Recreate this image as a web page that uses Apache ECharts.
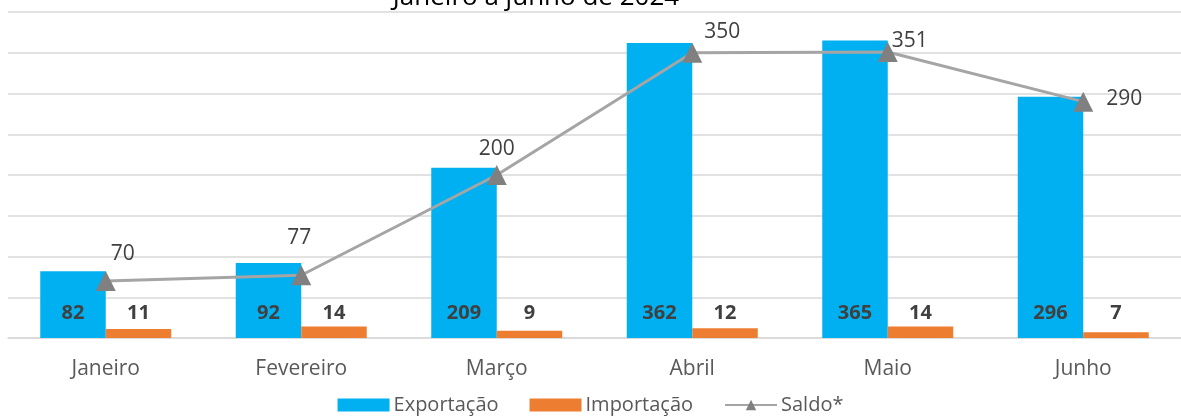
<!DOCTYPE html>
<html>
<head>
<meta charset="utf-8">
<script src="https://cdn.jsdelivr.net/npm/echarts@6/dist/echarts.min.js"></script>
<style>html,body{margin:0;padding:0;background:#fff}#c{width:1181px;height:418px}</style>
</head>
<body>
<div id="c"></div>
<script>
const categories = ['Janeiro', 'Fevereiro', 'Março', 'Abril', 'Maio', 'Junho'];
const exportacao = [82, 92, 209, 362, 365, 296];
const importacao = [11, 14, 9, 12, 14, 7];
const saldo = [70, 77, 200, 350, 351, 290];
const titleText = 'Janeiro a junho de 2024';

// label offsets for saldo labels (style, not data)
const saldoLabelOffsets = [[17, -27], [-2, -37], [0, -26], [30, -21], [22, -11], [41, -3]];

const FONT = '"Open Sans", sans-serif';
const chart = echarts.init(document.getElementById('c'));
chart.setOption({
  animation: false,
  backgroundColor: '#fff',
  textStyle: { fontFamily: FONT },
  title: {
    text: titleText, left: 531, top: -20, textAlign: 'center',
    textStyle: { fontFamily: FONT, fontSize: 26, fontWeight: 'normal', color: '#000' }
  },
  grid: { left: 8, right: 0, top: 12, bottom: 80 },
  legend: {
    bottom: -2, left: 'center', itemWidth: 52, itemHeight: 13, itemGap: 31,
    textStyle: { fontFamily: FONT, fontSize: 20, color: '#595959', padding: [0, 0, 0, -1] },
    data: [
      { name: 'Exportação', icon: 'rect' },
      { name: 'Importação', icon: 'rect' },
      { name: 'Saldo*' }
    ]
  },
  xAxis: {
    type: 'category', data: categories,
    axisTick: { show: false },
    axisLine: { lineStyle: { color: '#D9D9D9', width: 1.5 } },
    axisLabel: { fontFamily: FONT, fontSize: 21, color: '#595959', margin: 21 }
  },
  yAxis: {
    type: 'value', min: 0, max: 400, interval: 50,
    axisLabel: { show: false }, axisLine: { show: false }, axisTick: { show: false },
    splitLine: { lineStyle: { color: '#D9D9D9', width: 1.5 } }
  },
  series: [
    {
      name: 'Exportação', type: 'bar', data: exportacao,
      barGap: '0%', barCategoryGap: '33%',
      itemStyle: { color: '#00B0F0' },
      label: { show: true, position: 'insideBottom', distance: 15, fontFamily: FONT, fontSize: 20, fontWeight: 'bold', color: '#404040' }
    },
    {
      name: 'Importação', type: 'bar', data: importacao,
      itemStyle: { color: '#ED7D31' },
      label: { show: true, position: 'insideBottom', distance: 15, fontFamily: FONT, fontSize: 20, fontWeight: 'bold', color: '#404040' }
    },
    {
      name: 'Saldo*', type: 'line', data: saldo.map((v, i) => ({
        value: v,
        label: { offset: saldoLabelOffsets[i] }
      })),
      symbol: 'triangle', symbolSize: 20,
      itemStyle: { color: '#808080' },
      lineStyle: { color: '#A5A5A5', width: 3 },
      label: { show: true, position: 'inside', fontFamily: FONT, fontSize: 21, color: '#404040' },
      z: 5
    }
  ]
});
</script>
</body>
</html>
